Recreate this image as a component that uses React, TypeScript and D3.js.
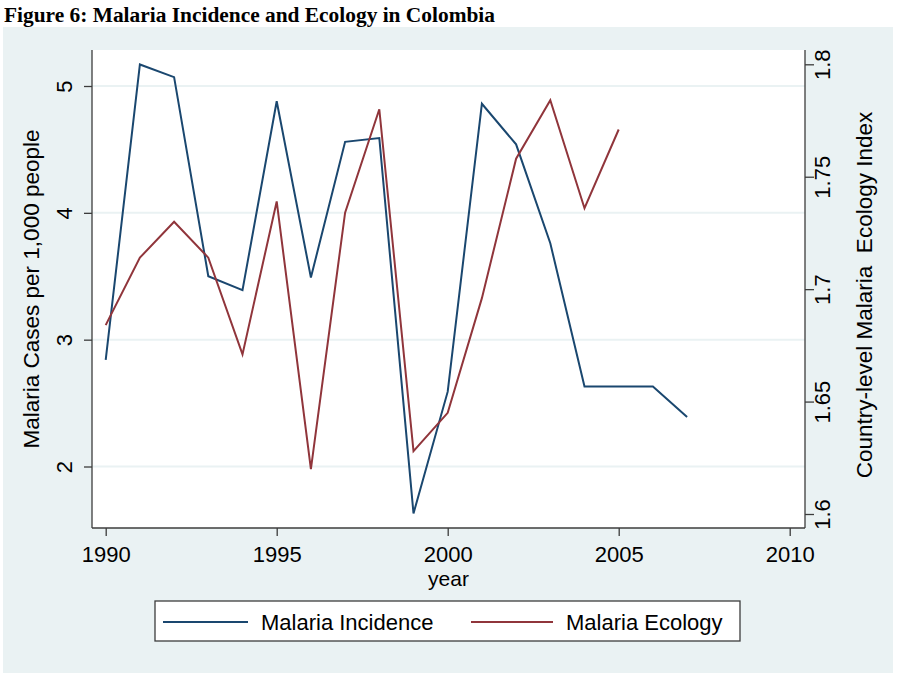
import React, { useEffect, useRef } from 'react';
import { axisBottom, axisLeft, axisRight, line, scaleLinear, select } from 'd3';

const years = [1990, 1991, 1992, 1993, 1994, 1995, 1996, 1997, 1998, 1999, 2000, 2001, 2002, 2003, 2004, 2005, 2006, 2007];
const incidence = [2.84, 5.17, 5.07, 3.5, 3.39, 4.88, 3.49, 4.56, 4.59, 1.63, 2.59, 4.86, 4.54, 3.76, 2.63, 2.63, 2.63, 2.39];
const ecologyYears = [1990, 1991, 1992, 1993, 1994, 1995, 1996, 1997, 1998, 1999, 2000, 2001, 2002, 2003, 2004, 2005];
const ecology = [1.684, 1.714, 1.73, 1.714, 1.671, 1.739, 1.62, 1.734, 1.78, 1.628, 1.645, 1.696, 1.758, 1.784, 1.736, 1.771];

const yearTicks = [1990, 1995, 2000, 2005, 2010];
const incidenceTicks = [2, 3, 4, 5];
const ecologyTicks = [1.6, 1.65, 1.7, 1.75, 1.8];

const NAVY = '#1a476f';
const MAROON = '#90353b';
const BG = '#eaf2f3';
const AXIS = '#3c3c3c';
const FONT = '"Liberation Sans", Arial, sans-serif';

// plot region
const left = 92;
const right = 805;
const top = 50;
const bottom = 528;

const App = () => {
  const svgRef = useRef(null);

  useEffect(() => {
    const svg: any = select(svgRef.current);

    const x = scaleLinear().domain([1990, 2010]).range([105.7, 789.7]);
    const yL = scaleLinear().domain([2, 5]).range([466.5, 86]);
    const yR = scaleLinear().domain([1.6, 1.8]).range([514, 64.3]);

    // gridlines
    svg
      .select('.grid')
      .selectAll('line')
      .data(incidenceTicks)
      .join('line')
      .attr('x1', left)
      .attr('x2', right)
      .attr('y1', (d: number) => yL(d))
      .attr('y2', (d: number) => yL(d))
      .attr('stroke', BG)
      .attr('stroke-width', 2);

    // axes
    const xAxis = axisBottom(x).tickValues(yearTicks).tickSize(8).tickFormat((d: any) => String(d));
    const gx = svg.select('.x-axis').attr('transform', `translate(0,${bottom})`).call(xAxis);
    gx.selectAll('text').attr('y', 34).attr('dy', 0);

    const leftAxis = axisLeft(yL).tickValues(incidenceTicks).tickSize(8).tickFormat((d: any) => String(d));
    const gl = svg.select('.y-left').attr('transform', `translate(${left},0)`).call(leftAxis);
    gl.selectAll('text')
      .attr('transform', 'rotate(-90)')
      .attr('x', 0)
      .attr('y', -20)
      .attr('dy', 0)
      .attr('text-anchor', 'middle');

    const rightAxis = axisRight(yR).tickValues(ecologyTicks).tickSize(9).tickFormat((d: any) => String(d));
    const gr = svg.select('.y-right').attr('transform', `translate(${right},0)`).call(rightAxis);
    gr.selectAll('text')
      .attr('transform', 'rotate(-90)')
      .attr('x', 0)
      .attr('y', 25)
      .attr('dy', 0)
      .attr('text-anchor', 'middle');

    svg.selectAll('.x-axis, .y-left, .y-right').each(function (this: any) {
      const g = select(this);
      g.select('.domain').remove();
      g.selectAll('line').attr('stroke', AXIS).attr('stroke-width', 1.3);
      g.selectAll('text').attr('fill', '#000').style('font-size', '22px').style('font-family', FONT);
    });

    // series
    const incLine = line<number>()
      .x((_, i) => x(years[i]))
      .y((d) => yL(d));
    const ecoLine = line<number>()
      .x((_, i) => x(ecologyYears[i]))
      .y((d) => yR(d));

    svg
      .select('.series')
      .selectAll('path')
      .data([
        { d: incLine(incidence), c: NAVY },
        { d: ecoLine(ecology), c: MAROON },
      ])
      .join('path')
      .attr('d', (s: any) => s.d)
      .attr('fill', 'none')
      .attr('stroke', (s: any) => s.c)
      .attr('stroke-width', 2)
      .attr('stroke-linejoin', 'miter');
  }, []);

  return (
    <div>
      <svg
        ref={svgRef}
        width={902}
        height={677}
        style={{ position: 'absolute', left: 0, top: 0, background: '#fff' }}
      >
        <text
          x={4}
          y={22}
          fontFamily='"Liberation Serif", "Times New Roman", serif'
          fontWeight='bold'
          fontSize={21.4}
        >
          Figure 6: Malaria Incidence and Ecology in Colombia
        </text>
        <rect x={3} y={27} width={890} height={646} fill={BG} />
        <rect x={left} y={top} width={right - left} height={bottom - top} fill='#fff' />
        <g className='grid' />
        <g className='series' />
        <g className='x-axis' />
        <g className='y-left' />
        <g className='y-right' />
        <line x1={left} x2={left} y1={top} y2={bottom} stroke={AXIS} strokeWidth={1.3} />
        <line x1={right} x2={right} y1={top} y2={bottom} stroke={AXIS} strokeWidth={1.3} />
        <line x1={left} x2={right} y1={bottom} y2={bottom} stroke={AXIS} strokeWidth={1.3} />
        <text
          transform={`translate(39,${(top + bottom) / 2}) rotate(-90)`}
          textAnchor='middle'
          fontFamily={FONT}
          fontSize={22.5}
        >
          Malaria Cases per 1,000 people
        </text>
        <text
          transform={`translate(872,${(top + bottom) / 2 + 6}) rotate(-90)`}
          textAnchor='middle'
          fontFamily={FONT}
          fontSize={22.5}
          style={{ whiteSpace: 'pre' }}
        >
          {'Country-level Malaria  Ecology Index'}
        </text>
        <text x={(left + right) / 2} y={586} textAnchor='middle' fontFamily={FONT} fontSize={21}>
          year
        </text>
        <g className='legend'>
          <rect x={155} y={601} width={585} height={40} fill='#fff' stroke={AXIS} strokeWidth={1.3} />
          <line x1={163} x2={248} y1={622} y2={622} stroke={NAVY} strokeWidth={2} />
          <text x={261} y={630} fontFamily={FONT} fontSize={22}>
            Malaria Incidence
          </text>
          <line x1={471} x2={553} y1={622} y2={622} stroke={MAROON} strokeWidth={2} />
          <text x={566} y={630} fontFamily={FONT} fontSize={22}>
            Malaria Ecology
          </text>
        </g>
      </svg>
    </div>
  );
};

export default App;
